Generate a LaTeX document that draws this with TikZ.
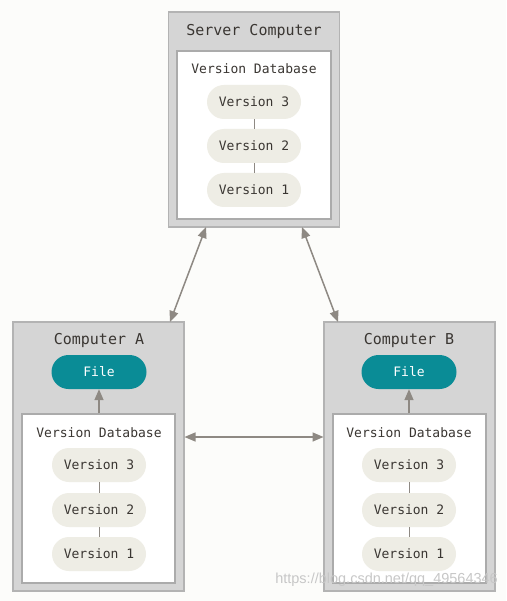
\documentclass[tikz,border=0pt]{standalone}
\usepackage{fontspec}
\setmonofont{DejaVu Sans Mono}
\setsansfont{Liberation Sans}
\usetikzlibrary{arrows.meta}
\definecolor{bgc}{HTML}{FCFCFA}
\definecolor{boxgray}{HTML}{D5D5D5}
\definecolor{boxline}{HTML}{B3B3B3}
\definecolor{innerline}{HTML}{ABABAB}
\definecolor{pillc}{HTML}{EEEDE5}
\definecolor{txt}{HTML}{3A3632}
\definecolor{teal}{HTML}{0A8C96}
\definecolor{arr}{HTML}{8E8983}
\tikzset{
  outerbox/.style={draw=boxline, fill=boxgray, line width=1.6pt, minimum width=171pt, inner sep=0pt},
  innerbox/.style={draw=innerline, fill=white, line width=1.4pt, minimum width=153pt, minimum height=169pt, inner sep=0pt},
  titletext/.style={font=\ttfamily\fontsize{15}{18}\selectfont, text=txt, inner sep=0pt},
  dbtext/.style={font=\ttfamily\fontsize{13}{16}\selectfont, text=txt, inner sep=0pt},
  pill/.style={fill=pillc, rounded corners=17pt, minimum width=94pt, minimum height=34pt, font=\ttfamily\fontsize{13}{16}\selectfont, text=txt, inner sep=0pt},
  filepill/.style={fill=teal, rounded corners=17pt, minimum width=95pt, minimum height=34pt, font=\ttfamily\fontsize{13}{16}\selectfont, text=white, inner sep=0pt},
  link/.style={draw=arr, line width=1pt},
  arrowline/.style={draw=arr, line width=1.5pt, -{Triangle[length=11pt,width=9pt]}},
  dblarrow/.style={draw=arr, line width=1.5pt, {Triangle[length=11pt,width=9pt]}-{Triangle[length=11pt,width=9pt]}},
}
\begin{document}
\begin{tikzpicture}[x=1pt, y=-1pt]
\fill[bgc] (0,0) rectangle (506,601);
\useasboundingbox (0,0) rectangle (506,601);

% Server
\node[outerbox, minimum height=215pt] (srv) at (254,119.5) {};
\node[innerbox, minimum width=154pt, minimum height=168pt] (srvdb) at (254,135) {};
\node[titletext] (srvt) at (254,31) {Server Computer};
\node[dbtext] (srvdbt) at (254,69) {Version Database};
\node[pill] (s3) at (254,102) {Version 3};
\node[pill] (s2) at (254,146) {Version 2};
\node[pill] (s1) at (254,190) {Version 1};
\draw[link] (s3.south) -- (s2.north);
\draw[link] (s2.south) -- (s1.north);

% Computer A
\node[outerbox, minimum height=269pt] (ca) at (98.5,456.5) {};
\node[innerbox] (cadb) at (98.5,498.5) {};
\node[titletext] (cat) at (99,340) {Computer A};
\node[filepill] (caf) at (99,372) {File};
\node[dbtext] (cadbt) at (99,433) {Version Database};
\node[pill] (a3) at (99,465) {Version 3};
\node[pill] (a2) at (99,510) {Version 2};
\node[pill] (a1) at (99,554) {Version 1};
\draw[link] (a3.south) -- (a2.north);
\draw[link] (a2.south) -- (a1.north);
\draw[arrowline] (cadb.north -| caf.south) -- (caf.south);

% Computer B
\node[outerbox, minimum height=269pt] (cb) at (409.5,456.5) {};
\node[innerbox] (cbdb) at (409.5,498.5) {};
\node[titletext] (cbt) at (409,340) {Computer B};
\node[filepill] (cbf) at (409,372) {File};
\node[dbtext] (cbdbt) at (409,433) {Version Database};
\node[pill] (b3) at (409,465) {Version 3};
\node[pill] (b2) at (409,510) {Version 2};
\node[pill] (b1) at (409,554) {Version 1};
\draw[link] (b3.south) -- (b2.north);
\draw[link] (b2.south) -- (b1.north);
\draw[arrowline] (cbdb.north -| cbf.south) -- (cbf.south);

% connectors
\coordinate (sl) at (206,227);
\coordinate (al) at (170,322);
\coordinate (sr) at (302,227);
\coordinate (br) at (338,322);
\coordinate (ah) at (184.5,437);
\coordinate (bh) at (323.5,437);
\draw[dblarrow] (sl) -- (al);
\draw[dblarrow] (sr) -- (br);
\draw[dblarrow] (ah) -- (bh);

% watermark
\node[font=\sffamily\fontsize{14.5}{16}\selectfont, text=black!22, anchor=east, inner sep=0pt] (wm) at (498,580) {https://blog.csdn.net/qq\_49564346};
\end{tikzpicture}
\end{document}
